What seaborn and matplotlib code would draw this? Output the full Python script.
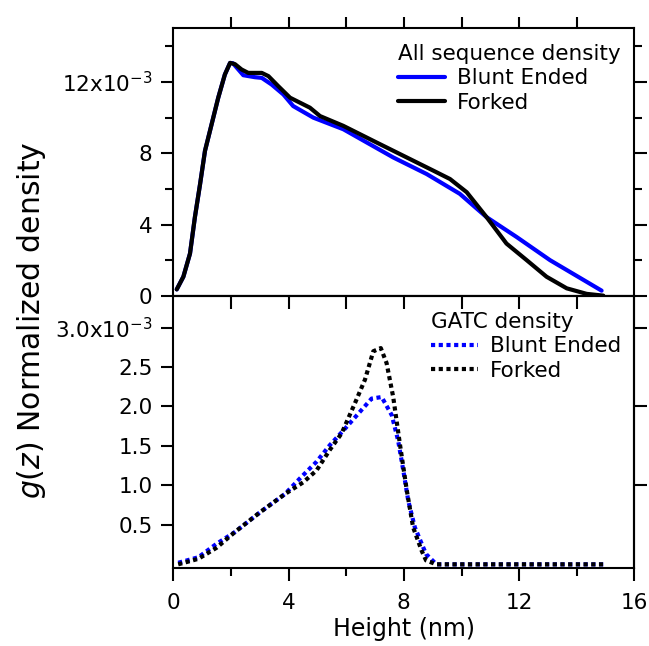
import numpy as np
import pandas as pd
import matplotlib
matplotlib.use("Agg")
import matplotlib.pyplot as plt
import seaborn as sns

# All sequence density, values in units of 1e-3
all_blunt_x = [0.12, 0.35, 0.58, 0.75, 0.93, 1.10, 1.33, 1.56, 1.79, 1.97, 2.07, 2.43, 2.83,
               3.07, 3.41, 3.82, 4.16, 4.86, 5.90, 6.71, 7.63, 8.79, 9.94, 10.87, 11.91,
               13.07, 14.86]
all_blunt_y = [0.37, 1.08, 2.38, 4.42, 6.28, 8.14, 9.63, 11.12, 12.42, 13.07, 13.05, 12.38, 12.27,
               12.23, 11.86, 11.3, 10.65, 10.0, 9.35, 8.61, 7.77, 6.84, 5.73, 4.42, 3.31,
               2.01, 0.30]
all_forked_x = [0.12, 0.35, 0.58, 0.75, 0.93, 1.10, 1.33, 1.56, 1.79, 1.97, 2.14, 2.37, 2.60,
                3.07, 3.30, 3.64, 4.05, 4.74, 5.09, 5.90, 7.05, 8.21, 9.02, 9.60, 10.18,
                10.87, 11.56, 12.26, 12.95, 13.65, 14.34, 14.92]
all_forked_y = [0.37, 1.08, 2.38, 4.42, 6.28, 8.14, 9.63, 11.12, 12.42, 13.07, 13.0, 12.7, 12.51,
                12.51, 12.33, 11.77, 11.12, 10.56, 10.09, 9.54, 8.61, 7.68, 7.03, 6.56, 5.82,
                4.42, 2.94, 2.01, 1.08, 0.43, 0.12, 0.02]

# GATC density, values in units of 1e-3
gatc_blunt_x = [0.17, 0.87, 1.50, 2.14, 3.01, 3.87, 4.45, 4.97, 5.43, 5.96, 6.42, 6.88, 7.23,
                7.58, 7.80, 7.98, 8.15, 8.38, 8.62, 8.77, 9.13, 14.97]
gatc_blunt_y = [0.02, 0.09, 0.26, 0.41, 0.66, 0.89, 1.11, 1.30, 1.51, 1.72, 1.91, 2.10, 2.12,
                1.89, 1.57, 1.19, 0.81, 0.47, 0.26, 0.13, 0.0, 0.0]
gatc_forked_x = [0.17, 0.87, 1.50, 2.14, 3.01, 3.87, 4.51, 4.97, 5.43, 5.84, 6.30, 6.65, 6.94,
                 7.20, 7.40, 7.63, 7.86, 8.10, 8.32, 8.62, 8.77, 9.13, 14.97]
gatc_forked_y = [0.0, 0.07, 0.21, 0.41, 0.66, 0.89, 1.04, 1.19, 1.45, 1.66, 2.04, 2.34, 2.70,
                 2.74, 2.55, 2.12, 1.53, 0.94, 0.47, 0.17, 0.05, 0.0, 0.0]

sns.set_style("ticks", {"axes.edgecolor": "black", "text.color": "black",
                        "xtick.color": "black", "ytick.color": "black",
                        "axes.labelcolor": "black"})
plt.rcParams["font.family"] = ["DejaVu Sans"]
plt.rcParams["axes.linewidth"] = 1.5
for k in ["xtick.major.width", "ytick.major.width", "xtick.minor.width", "ytick.minor.width"]:
    plt.rcParams[k] = 1.5

fig = plt.figure(figsize=(6.49, 6.46), dpi=100)
ax1 = fig.add_axes([0.267, 0.5418, 0.7106, 0.4141])
ax2 = fig.add_axes([0.267, 0.1215, 0.7106, 0.4203])

lw = 3.0
dots = (0, (1.0, 0.85))
sns.lineplot(x=all_blunt_x, y=all_blunt_y, ax=ax1, color="#0000ff", lw=lw, label="Blunt Ended", sort=False)
sns.lineplot(x=all_forked_x, y=all_forked_y, ax=ax1, color="black", lw=lw, label="Forked", sort=False)
sns.lineplot(x=gatc_blunt_x, y=gatc_blunt_y, ax=ax2, color="#0000ff", lw=lw, label="Blunt Ended",
             sort=False, linestyle=dots)
sns.lineplot(x=gatc_forked_x, y=gatc_forked_y, ax=ax2, color="black", lw=lw, label="Forked",
             sort=False, linestyle=dots)

for ax in (ax1, ax2):
    ax.set_xlim(0, 16)
    for s in ax.spines.values():
        s.set_visible(True)
    ax.set_xlabel("")
    ax.set_ylabel("")

# top panel
ax1.set_ylim(0, 15)
ax1.set_yticks([0, 4, 8, 12])
ax1.set_yticks([2, 6, 10, 14], minor=True)
ax1.set_yticklabels(["0", "4", "8", r"12x10$^{-3}$"])
ax1.tick_params(axis="y", which="both", direction="out", left=True, right=True,
                labelsize=15.5, pad=6)
ax1.tick_params(axis="y", which="major", length=9)
ax1.tick_params(axis="y", which="minor", length=6)
ax1.set_xticks([2, 4, 6, 8, 10, 12, 14])
ax1.tick_params(axis="x", which="both", bottom=False, top=True, labelbottom=False,
                direction="out", length=8)

# bottom panel
ax2.set_ylim(-0.04, 3.4)
ax2.set_yticks([0.5, 1.0, 1.5, 2.0, 2.5, 3.0])
ax2.set_yticklabels(["0.5", "1.0", "1.5", "2.0", "2.5", r"3.0x10$^{-3}$"])
ax2.tick_params(axis="y", which="both", direction="out", left=True, right=False, length=9,
                labelsize=15.5, pad=6)
ax2.set_xticks([0, 4, 8, 12, 16])
ax2.set_xticks([2, 6, 10, 14], minor=True)
ax2.tick_params(axis="x", which="major", direction="out", length=9, labelsize=15.5, pad=9)
ax2.tick_params(axis="x", which="minor", direction="out", length=5.5)
sec = ax2.secondary_yaxis("right")
sec.set_yticks([1.0, 2.0, 3.0])
sec.tick_params(direction="out", length=9, width=1.5, labelright=False)
topx = ax2.secondary_xaxis("top")
topx.set_xticks([2, 4, 6, 8, 10, 12, 14])
topx.tick_params(direction="in", length=9, width=1.5, labeltop=False)

ax2.set_xlabel("Height (nm)", fontsize=17, labelpad=3)
fig.text(0.048, 0.505, r"$g(z)$ Normalized density", rotation=90, fontsize=21.5,
         ha="center", va="center")

leg_kw = dict(frameon=False, fontsize=15.5, title_fontsize=15.5, handlelength=2.2,
              handletextpad=0.55, alignment="left", borderpad=0, borderaxespad=0,
              labelspacing=0.2, loc="upper left")
ax1.legend(title="All sequence density", bbox_to_anchor=(0.487, 0.942), **leg_kw)
ax2.legend(title="GATC density", bbox_to_anchor=(0.559, 0.941), **leg_kw)

fig.savefig("out.png", dpi=100)
